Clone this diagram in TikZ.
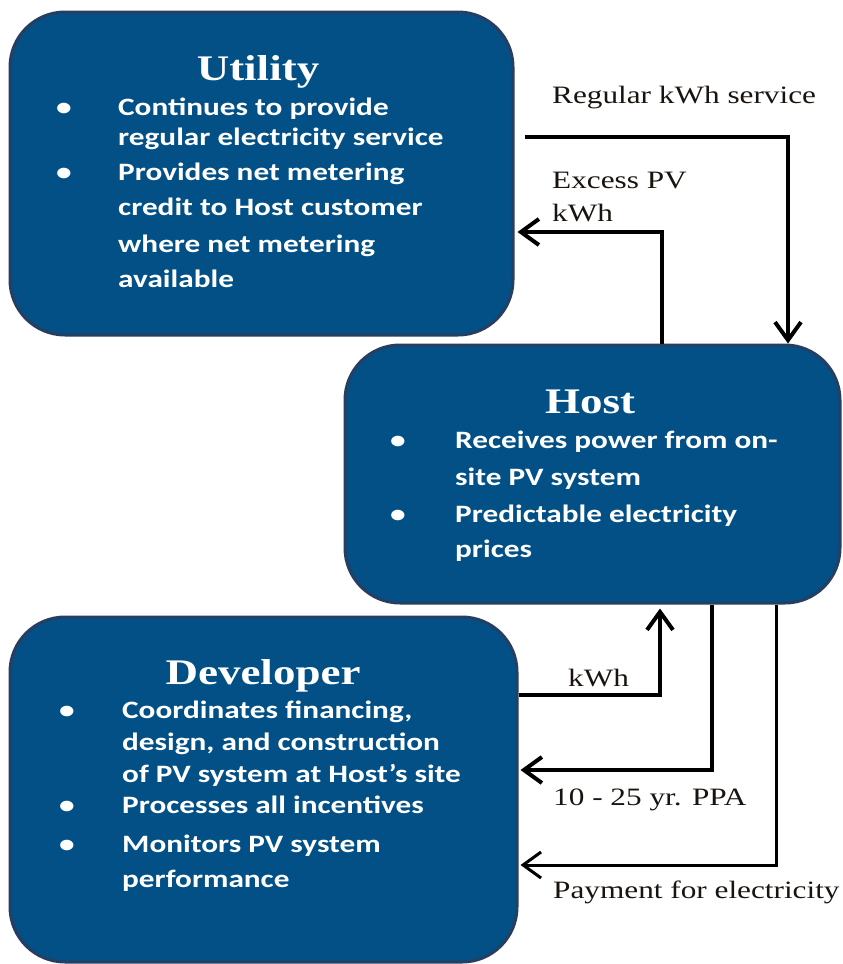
\documentclass[tikz,border=0pt]{standalone}
\usepackage{fontspec}
\setmainfont{Liberation Serif}[FakeStretch=1.25]
\newfontfamily\bodyfont{Carlito}[FakeStretch=1.25]
\usetikzlibrary{arrows.meta}
\definecolor{boxfill}{RGB}{2,80,134}
\definecolor{boxline}{RGB}{38,62,98}
\definecolor{labelc}{RGB}{25,20,15}
\tikzset{
  party/.style={draw=boxline, line width=3pt, fill=boxfill, rounded corners=55pt, inner sep=0pt},
  ttl/.style={font=\fontsize{36}{40}\selectfont\bfseries, text=white, anchor=base, inner sep=0pt},
  ln/.style={font=\bodyfont\fontsize{25}{30}\selectfont\bfseries, text=white, anchor=base west, inner sep=0pt},
  bul/.style={font=\bodyfont\fontsize{25}{30}\selectfont\bfseries, text=white, anchor=base, inner sep=0pt},
  lab/.style={font=\fontsize{25}{30}\selectfont, text=labelc, anchor=base west, inner sep=0pt},
  flow/.style={line width=4pt, draw=black, -{Straight Barb[length=18pt,width=26pt]}},
}
\begin{document}
\begin{tikzpicture}[x=1pt,y=-1pt]
\useasboundingbox (0,0) rectangle (843,964);

% boxes
\node[party, minimum width=503pt, minimum height=323pt] (util) at (261.5,173.5) {};
\node[party, minimum width=495pt, minimum height=258pt] (host) at (592.5,474) {};
\node[party, minimum width=507pt, minimum height=345pt] (dev) at (263.5,789.5) {};

% titles
\node[ttl] (ut) at (258,80) {Utility};
\node[ttl] (ht) at (590,413) {Host};
\node[ttl] (dt) at (263,684) {Developer};

% utility text
\node[bul] (ub1) at (64,115) {•};
\node[bul] (ub2) at (64,180) {•};
\node[ln] (u1) at (118,115) {Continues to provide};
\node[ln] (u2) at (118,145) {regular electricity service};
\node[ln] (u3) at (118,180) {Provides net metering};
\node[ln] (u4) at (118,215) {credit to Host customer};
\node[ln] (u5) at (118,252) {where net metering};
\node[ln] (u6) at (118,287) {available};

% host text
\node[bul] (hb1) at (398,448) {•};
\node[bul] (hb2) at (398,522) {•};
\node[ln] (h1) at (455,448) {Receives power from on-};
\node[ln] (h2) at (455,485) {site PV system};
\node[ln] (h3) at (455,522) {Predictable electricity};
\node[ln] (h4) at (455,557) {prices};

% developer text
\node[bul] (db1) at (67,718) {•};
\node[bul] (db2) at (67,813) {•};
\node[bul] (db3) at (67,852) {•};
\node[ln] (d1) at (122,718) {Coordinates financing,};
\node[ln] (d2) at (122,750) {design, and construction};
\node[ln] (d3) at (122,782) {of PV system at Host’s site};
\node[ln] (d4) at (122,813) {Processes all incentives};
\node[ln] (d5) at (122,852) {Monitors PV system};
\node[ln] (d6) at (122,887) {performance};

% connectors
\coordinate (regc) at (788,137);
\coordinate (excc) at (662,232);
\coordinate (kwhc) at (660,695);
\coordinate (ppac) at (712,770);
\coordinate (payc) at (776,865);

\draw[flow] ([xshift=10pt]util.east |- regc) -| (regc |- host.north);
\draw[flow, shorten >=3pt] (excc |- host.north) |- (util.east |- excc);
\draw[flow, shorten >=4pt] (dev.east |- kwhc) -| (kwhc |- host.south);
\draw[flow, shorten >=2pt] (ppac |- host.south) |- (dev.east |- ppac);
\draw[flow, line width=3pt, shorten >=2pt] (payc |- host.south) |- (dev.east |- payc);

% labels
\node[lab] (l1) at (552,103) {Regular kWh service};
\node[lab] (l2) at (552,188) {Excess PV};
\node[lab] (l3) at (552,221) {kWh};
\node[lab] (l4) at (568,686) {kWh};
\node[lab] (l5) at (553,805) {10 - 25 yr. PPA};
\node[lab] (l6) at (553,898) {Payment for electricity};
\end{tikzpicture}
\end{document}
